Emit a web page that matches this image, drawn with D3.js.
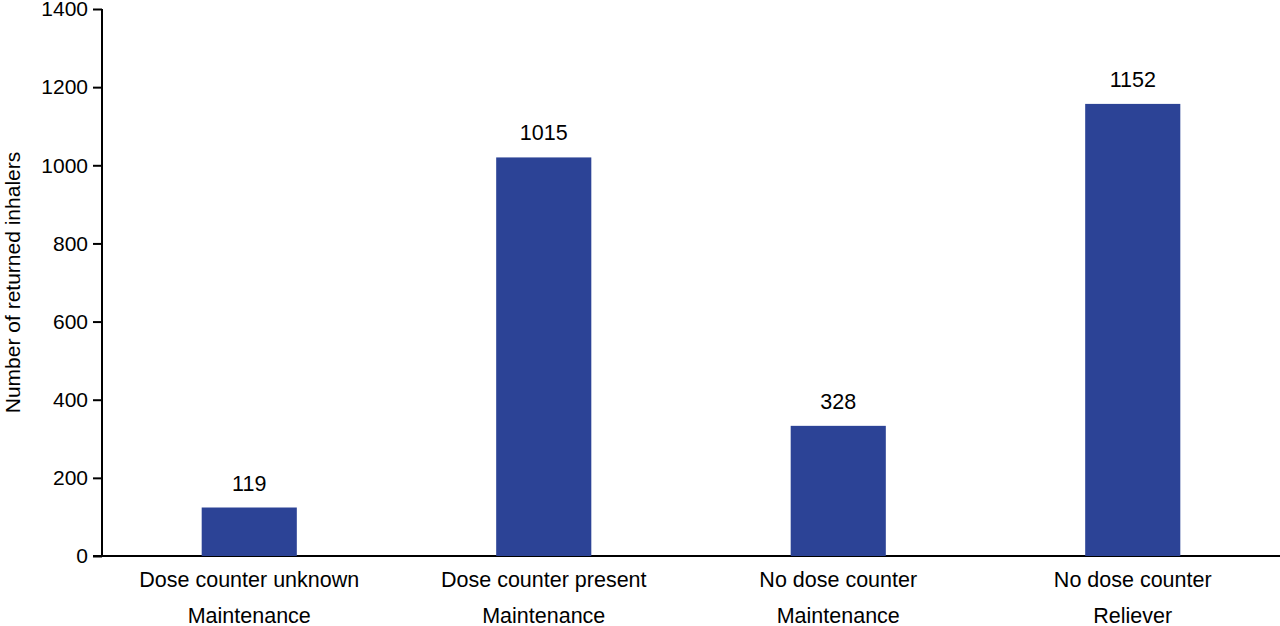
<!DOCTYPE html>
<html>
<head>
<meta charset="utf-8">
<script src="https://cdn.jsdelivr.net/npm/d3@7"></script>
<style>
  body { margin: 0; background: #fff; }
  svg { display: block; font-family: "Liberation Sans", Arial, sans-serif; }
</style>
</head>
<body>
<div class="BarChart"></div>
<script>
// chart data
let categories = ["Dose counter unknown", "Dose counter present", "No dose counter", "No dose counter"];
let groups = ["Maintenance", "Maintenance", "Maintenance", "Reliever"];
let values = [119, 1015, 328, 1152];
let yTicks = [0, 200, 400, 600, 800, 1000, 1200, 1400];

let width = 1280, height = 626;
let margin = {top: 9, right: 0, bottom: 70, left: 102};

let svg = d3.select(".BarChart")
            .append("svg")
            .attr("width", width)
            .attr("height", height);

let xScale = d3.scaleBand()
               .domain(d3.range(values.length))
               .range([margin.left, width - margin.right])
               .paddingInner(0.677)
               .paddingOuter(0.3385);

let yScale = d3.scaleLinear()
               .domain([0, 1400])
               .range([height - margin.bottom, margin.top]);

// y axis
let yAxis = d3.axisLeft(yScale)
              .tickValues(yTicks)
              .tickSize(9)
              .tickPadding(5)
              .tickFormat(d3.format("d"));

let gy = svg.append("g")
            .attr("transform", "translate(" + margin.left + ",0)")
            .call(yAxis);
gy.select(".domain").attr("stroke", "#000").attr("stroke-width", 2)
  .attr("d", "M0," + yScale(0) + "V" + yScale(1400));
gy.selectAll(".tick line").attr("stroke", "#000").attr("stroke-width", 2);
gy.selectAll(".tick text")
  .style("font-size", "21px")
  .style("fill", "#000");

// x axis line
svg.append("line")
   .attr("x1", margin.left - 9)
   .attr("x2", width)
   .attr("y1", yScale(0))
   .attr("y2", yScale(0))
   .attr("stroke", "#000")
   .attr("stroke-width", 2);

// bars
svg.selectAll("rect.bar")
   .data(values)
   .enter()
   .append("rect")
   .attr("class", "bar")
   .attr("x", (d, i) => xScale(i))
   .attr("y", d => yScale(d) - 2)
   .attr("width", xScale.bandwidth())
   .attr("height", d => yScale(0) - yScale(d) + 2)
   .attr("fill", "#2c4396");

// value labels
svg.selectAll(".valueText")
   .data(values)
   .enter()
   .append("text")
   .attr("class", "valueText")
   .attr("x", (d, i) => xScale(i) + xScale.bandwidth() / 2)
   .attr("y", d => yScale(d) - 19)
   .style("text-anchor", "middle")
   .style("font-size", "21.5px")
   .style("fill", "#000")
   .text(d => d);

// category labels, two lines
svg.selectAll(".catText")
   .data(categories)
   .enter()
   .append("text")
   .attr("class", "catText")
   .attr("x", (d, i) => xScale(i) + xScale.bandwidth() / 2)
   .attr("y", yScale(0) + 31)
   .style("text-anchor", "middle")
   .style("font-size", "21.5px")
   .style("fill", "#000")
   .text(d => d);

svg.selectAll(".groupText")
   .data(groups)
   .enter()
   .append("text")
   .attr("class", "groupText")
   .attr("x", (d, i) => xScale(i) + xScale.bandwidth() / 2)
   .attr("y", yScale(0) + 67)
   .style("text-anchor", "middle")
   .style("font-size", "21.5px")
   .style("fill", "#000")
   .text(d => d);

// y axis title
svg.append("text")
   .attr("transform", "rotate(-90)")
   .attr("x", -(yScale(0) + yScale(1400)) / 2)
   .attr("y", 20)
   .style("text-anchor", "middle")
   .style("font-size", "21px")
   .style("fill", "#000")
   .text("Number of returned inhalers");
</script>
</body>
</html>
